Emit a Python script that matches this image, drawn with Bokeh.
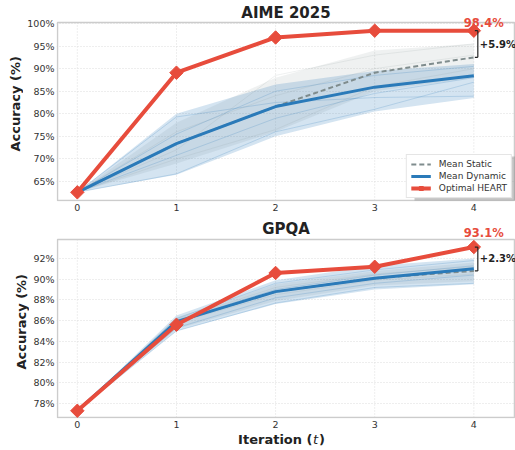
import math
from bokeh.plotting import figure
from bokeh.layouts import column, row
from bokeh.models import (Label, Legend, LegendItem, FixedTicker,
                          PrintfTickFormatter, Range1d, BoxAnnotation)
from bokeh.core.properties import value
from bokeh.embed import file_html
from bokeh.resources import INLINE

# ---------------- data ----------------
iters = [0, 1, 2, 3, 4]

aime_optimal = [62.6, 89.1, 96.9, 98.4, 98.4]
aime_dyn_mean = [62.6, 73.4, 81.6, 85.9, 88.4]
aime_dyn_lo = [62.6, 66.5, 75.0, 80.5, 83.5]
aime_dyn_hi = [62.6, 80.0, 86.5, 89.5, 91.0]
aime_static_mean = [62.6, 73.4, 81.6, 89.1, 92.5]
aime_static_lo = [62.6, 69.0, 76.0, 85.0, 88.0]
aime_static_hi = [62.6, 78.0, 88.0, 94.0, 95.5]
aime_dyn_runs = [
    [62.6, 79.3, 82.5, 83.6, 83.9],
    [62.6, 70.8, 79.0, 84.5, 88.0],
    [62.6, 66.7, 76.0, 81.0, 87.0],
    [62.6, 75.5, 85.0, 88.5, 90.5],
]
aime_static_runs = [
    [62.6, 72.0, 88.5, 93.0, 95.5],
    [62.6, 70.0, 76.5, 86.0, 90.0],
    [62.6, 76.0, 84.0, 90.0, 93.0],
]

gpqa_optimal = [77.3, 85.6, 90.6, 91.2, 93.1]
gpqa_dyn_mean = [77.3, 85.9, 88.8, 90.1, 91.0]
gpqa_dyn_lo = [77.3, 85.0, 87.6, 89.0, 89.5]
gpqa_dyn_hi = [77.3, 86.5, 89.9, 91.3, 92.0]
gpqa_static_mean = [77.3, 85.9, 88.8, 90.1, 90.8]
gpqa_static_lo = [77.3, 85.2, 87.9, 89.4, 89.8]
gpqa_static_hi = [77.3, 86.3, 89.5, 90.8, 91.6]
gpqa_dyn_runs = [
    [77.3, 86.2, 89.6, 90.9, 91.8],
    [77.3, 85.3, 88.2, 89.6, 90.4],
    [77.3, 85.0, 87.7, 89.2, 89.6],
    [77.3, 86.0, 89.0, 90.4, 91.3],
]
gpqa_static_runs = [
    [77.3, 85.8, 88.5, 89.9, 90.5],
    [77.3, 86.1, 89.2, 90.5, 91.2],
]

aime_yticks = [65, 70, 75, 80, 85, 90, 95, 100]
gpqa_yticks = [78, 80, 82, 84, 86, 88, 90, 92]
x_tick_labels = {i: str(i) for i in iters}

# ---------------- style ----------------
RED = "#e74c3c"
BLUE = "#2a7ab9"
GRAY = "#7f8c8d"
FONT = "DejaVu Sans"
XVIS = (-0.2, 4.41)          # visible box in x
PADX = 0.0101                # 1px margin


def make_panel(title, optimal, dyn_mean, dyn_lo, dyn_hi, st_mean, st_lo, st_hi,
               dyn_runs, st_runs, yticks, yvis, yframe, frame_h, title_y,
               label_yoff, left_border, bottom_border, legend=False):
    p = figure(frame_width=459, frame_height=frame_h, output_backend="svg",
               toolbar_location=None,
               x_range=Range1d(XVIS[0] - PADX, XVIS[1] + PADX),
               y_range=Range1d(*yframe), min_border_left=left_border,
               min_border_right=0, min_border_top=0,
               min_border_bottom=bottom_border)
    p.outline_line_color = None
    p.background_fill_color = "white"
    p.border_fill_color = "white"
    p.xgrid.grid_line_color = None
    p.ygrid.grid_line_color = "#dddddd"
    p.ygrid.grid_line_dash = "1 2"
    p.xaxis.ticker = FixedTicker(ticks=iters)
    p.xaxis.major_label_overrides = x_tick_labels
    p.yaxis.ticker = FixedTicker(ticks=yticks)
    p.yaxis.formatter = PrintfTickFormatter(format="%d%%")
    for ax in (p.xaxis, p.yaxis):
        ax.axis_line_color = None
        ax.major_tick_line_color = None
        ax.minor_tick_line_color = None
        ax.major_tick_out = 0
        ax.major_tick_in = 0
        ax.minor_tick_out = 0
        ax.major_label_text_font = FONT
        ax.major_label_text_font_size = "9.5px"
        ax.major_label_text_color = "#333333"
        ax.major_label_standoff = 2

    # vertical grid limited to the visible box
    p.segment(x0=iters, x1=iters, y0=[yvis[0]] * len(iters),
              y1=[yvis[1]] * len(iters), line_color="#dddddd",
              line_dash="1 2", line_width=1)
    # visible box outline
    p.quad(left=[XVIS[0]], right=[XVIS[1]], bottom=[yvis[0]], top=[yvis[1]],
           fill_color=None, line_color="#cccccc", line_width=1.5)

    p.varea(x=iters, y1=st_lo, y2=st_hi, fill_color=GRAY, fill_alpha=0.12)
    p.varea(x=iters, y1=dyn_lo, y2=dyn_hi, fill_color=BLUE, fill_alpha=0.2)
    for r in st_runs:
        p.line(iters, r, line_color=GRAY, line_alpha=0.12, line_width=1)
    for r in dyn_runs:
        p.line(iters, r, line_color=BLUE, line_alpha=0.2, line_width=1)
    r_st = p.line(iters, st_mean, line_color=GRAY, line_width=2,
                  line_dash="5 3")
    r_dyn = p.line(iters, dyn_mean, line_color=BLUE, line_width=3)
    r_opt = p.line(iters, optimal, line_color=RED, line_width=4)
    r_optm = p.scatter(iters, optimal, marker="square", angle=math.pi / 4,
                       size=9.5, fill_color=RED, line_color=RED)

    # gain bracket
    x_end = iters[-1]
    p.segment(x0=[x_end + 0.04, x_end + 0.01, x_end + 0.01],
              y0=[st_mean[-1], optimal[-1], st_mean[-1]],
              x1=[x_end + 0.04, x_end + 0.04, x_end + 0.04],
              y1=[optimal[-1], optimal[-1], st_mean[-1]],
              line_color="#222222", line_width=1.2)
    gain = optimal[-1] - st_mean[-1]
    p.add_layout(Label(x=x_end + 0.06, y=(optimal[-1] + st_mean[-1]) / 2,
                       text=f"+{gain:.1f}%", text_font=FONT,
                       text_font_size="10px", text_font_style="bold",
                       text_color="#222222", text_baseline="middle",
                       text_align="left"))
    p.add_layout(Label(x=x_end + 0.1, y=optimal[-1], y_offset=label_yoff,
                       text=f"{optimal[-1]:.1f}%", text_font=FONT,
                       text_font_size="11.5px", text_font_style="bold",
                       text_color=RED, text_baseline="bottom",
                       text_align="center"))
    # panel title
    p.add_layout(Label(x=sum(XVIS) / 2, y=title_y, y_units="screen",
                       text=title, text_font=FONT, text_font_size="15px",
                       text_font_style="bold", text_color="#222222",
                       text_align="center", text_baseline="middle"))

    if legend:
        p.add_layout(BoxAnnotation(left=358, right=459, bottom=1, top=45,
                                   left_units="screen", right_units="screen",
                                   top_units="screen", bottom_units="screen",
                                   fill_color="#888888", fill_alpha=0.45,
                                   line_color=None))
        lg = Legend(items=[
            LegendItem(label="Mean Static", renderers=[r_st]),
            LegendItem(label="Mean Dynamic", renderers=[r_dyn]),
            LegendItem(label="Optimal HEART", renderers=[r_opt, r_optm]),
        ], location="bottom_right")
        lg.label_text_font = FONT
        lg.label_text_font_size = "9px"
        lg.label_text_color = "#333333"
        lg.glyph_width = 20
        lg.glyph_height = 10
        lg.spacing = 2
        lg.padding = 4
        lg.margin = 3
        lg.label_standoff = 8
        lg.label_height = 10
        lg.border_line_color = "#cccccc"
        lg.background_fill_alpha = 1.0
        p.add_layout(lg)
    return p


def y_strip(width, height, ycenter, xbase):
    s = figure(width=width, height=height, output_backend="svg",
               toolbar_location=None, x_range=Range1d(0, width),
               y_range=Range1d(0, height), x_axis_type=None,
               y_axis_type=None, min_border=0, min_border_left=0,
               min_border_right=0, min_border_top=0, min_border_bottom=0)
    s.outline_line_color = None
    s.grid.visible = False
    s.text(x=[xbase], y=[ycenter], text=["Accuracy (%)"], angle=math.pi / 2,
           text_font=value(FONT), text_font_size="13px",
           text_font_style="bold", text_color="#222222",
           text_align="center", text_baseline="alphabetic")
    return s


# panel 1: frame 0..201 px, visible box 22..200 px
p1 = make_panel("AIME 2025", aime_optimal, aime_dyn_mean, aime_dyn_lo,
                aime_dyn_hi, aime_static_mean, aime_static_lo, aime_static_hi,
                aime_dyn_runs, aime_static_runs, aime_yticks,
                (60.79, 100.22), (60.568, 105.09), 201, 189, 1, 33, 15,
                legend=True)
# panel 2: frame 216..418 px, visible box 239..417 px
p2 = make_panel("GPQA", gpqa_optimal, gpqa_dyn_mean, gpqa_dyn_lo,
                gpqa_dyn_hi, gpqa_static_mean, gpqa_static_lo, gpqa_static_hi,
                gpqa_dyn_runs, gpqa_static_runs, gpqa_yticks,
                (76.65, 93.83), (76.553, 96.05), 202, 190, 7, 27, 13)

s1 = y_strip(23, 216, 105, 14.5)
s2 = y_strip(29, 215, 103, 21)

# x-axis title "Iteration (t)" with italic t
XS_H = 19
xs = figure(width=515, height=XS_H, output_backend="svg",
            toolbar_location=None, x_range=Range1d(0, 515),
            y_range=Range1d(0, XS_H), x_axis_type=None, y_axis_type=None,
            min_border=0, min_border_left=0, min_border_right=0,
            min_border_top=0, min_border_bottom=0)
xs.outline_line_color = None
xs.grid.visible = False
for txt, xpos, style, align in [("Iteration (", 312, "bold", "right"),
                                ("t", 312.5, "italic", "left"),
                                (")", 318.5, "bold", "left")]:
    xs.text(x=[xpos], y=[11.5], text=[txt], text_font=value(FONT),
            text_font_size="13px", text_font_style=style,
            text_color="#222222", text_align=align, text_baseline="middle")

layout = column(row(s1, p1, spacing=0), row(s2, p2, spacing=0), xs, spacing=0)
open("out.html", "w").write(file_html(layout, INLINE))
